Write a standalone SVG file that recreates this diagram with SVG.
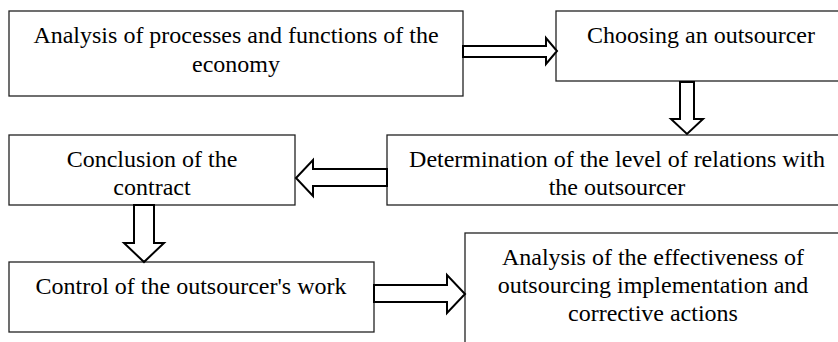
<svg xmlns="http://www.w3.org/2000/svg" width="838" height="342" viewBox="0 0 838 342">
<style>
.box{fill:#fff;stroke:#222;stroke-width:1.3}
.t{font-family:'Liberation Serif','Times New Roman',serif;font-size:24px;fill:#000;text-anchor:middle}
.arr{fill:#fff;stroke:#000;stroke-width:2;stroke-linejoin:miter}
</style>
<rect width="838" height="342" fill="#fff"/>
<g id="n1"><rect class="box" x="9" y="11" width="454" height="85"/>
<text class="t" x="236" y="43">Analysis of processes and functions of the</text>
<text class="t" x="236" y="72">economy</text></g>
<g id="n2"><rect class="box" x="556" y="11" width="290" height="70"/>
<text class="t" x="701" y="43">Choosing an outsourcer</text></g>
<g id="n3"><rect class="box" x="387" y="135" width="460" height="70"/>
<text class="t" x="617" y="167">Determination of the level of relations with</text>
<text class="t" x="617" y="195">the outsourcer</text></g>
<g id="n4"><rect class="box" x="9" y="135" width="286" height="70"/>
<text class="t" x="152" y="167">Conclusion of the</text>
<text class="t" x="152" y="195">contract</text></g>
<g id="n5"><rect class="box" x="9" y="262" width="365" height="70"/>
<text class="t" x="191" y="294">Control of the outsourcer's work</text></g>
<g id="n6"><rect class="box" x="465" y="233" width="380" height="120"/>
<text class="t" x="653" y="265">Analysis of the effectiveness of</text>
<text class="t" x="653" y="293">outsourcing implementation and</text>
<text class="t" x="653" y="321">corrective actions</text></g>
<g id="connectors">
<polygon class="arr" points="463,46 546,46 546,38 557,51 546,64 546,57 463,57"/>
<polygon class="arr" points="680,82 694,82 694,119 703,119 687,134 671,119 680,119"/>
<polygon class="arr" points="387,169 313,169 313,160 296,178 313,196 313,186 387,186"/>
<polygon class="arr" points="134,205 154,205 154,243 164,243 144,262 124,243 134,243"/>
<polygon class="arr" points="374,285 447,285 447,275 465,294 447,313 447,302 374,302"/>
</g>
</svg>
